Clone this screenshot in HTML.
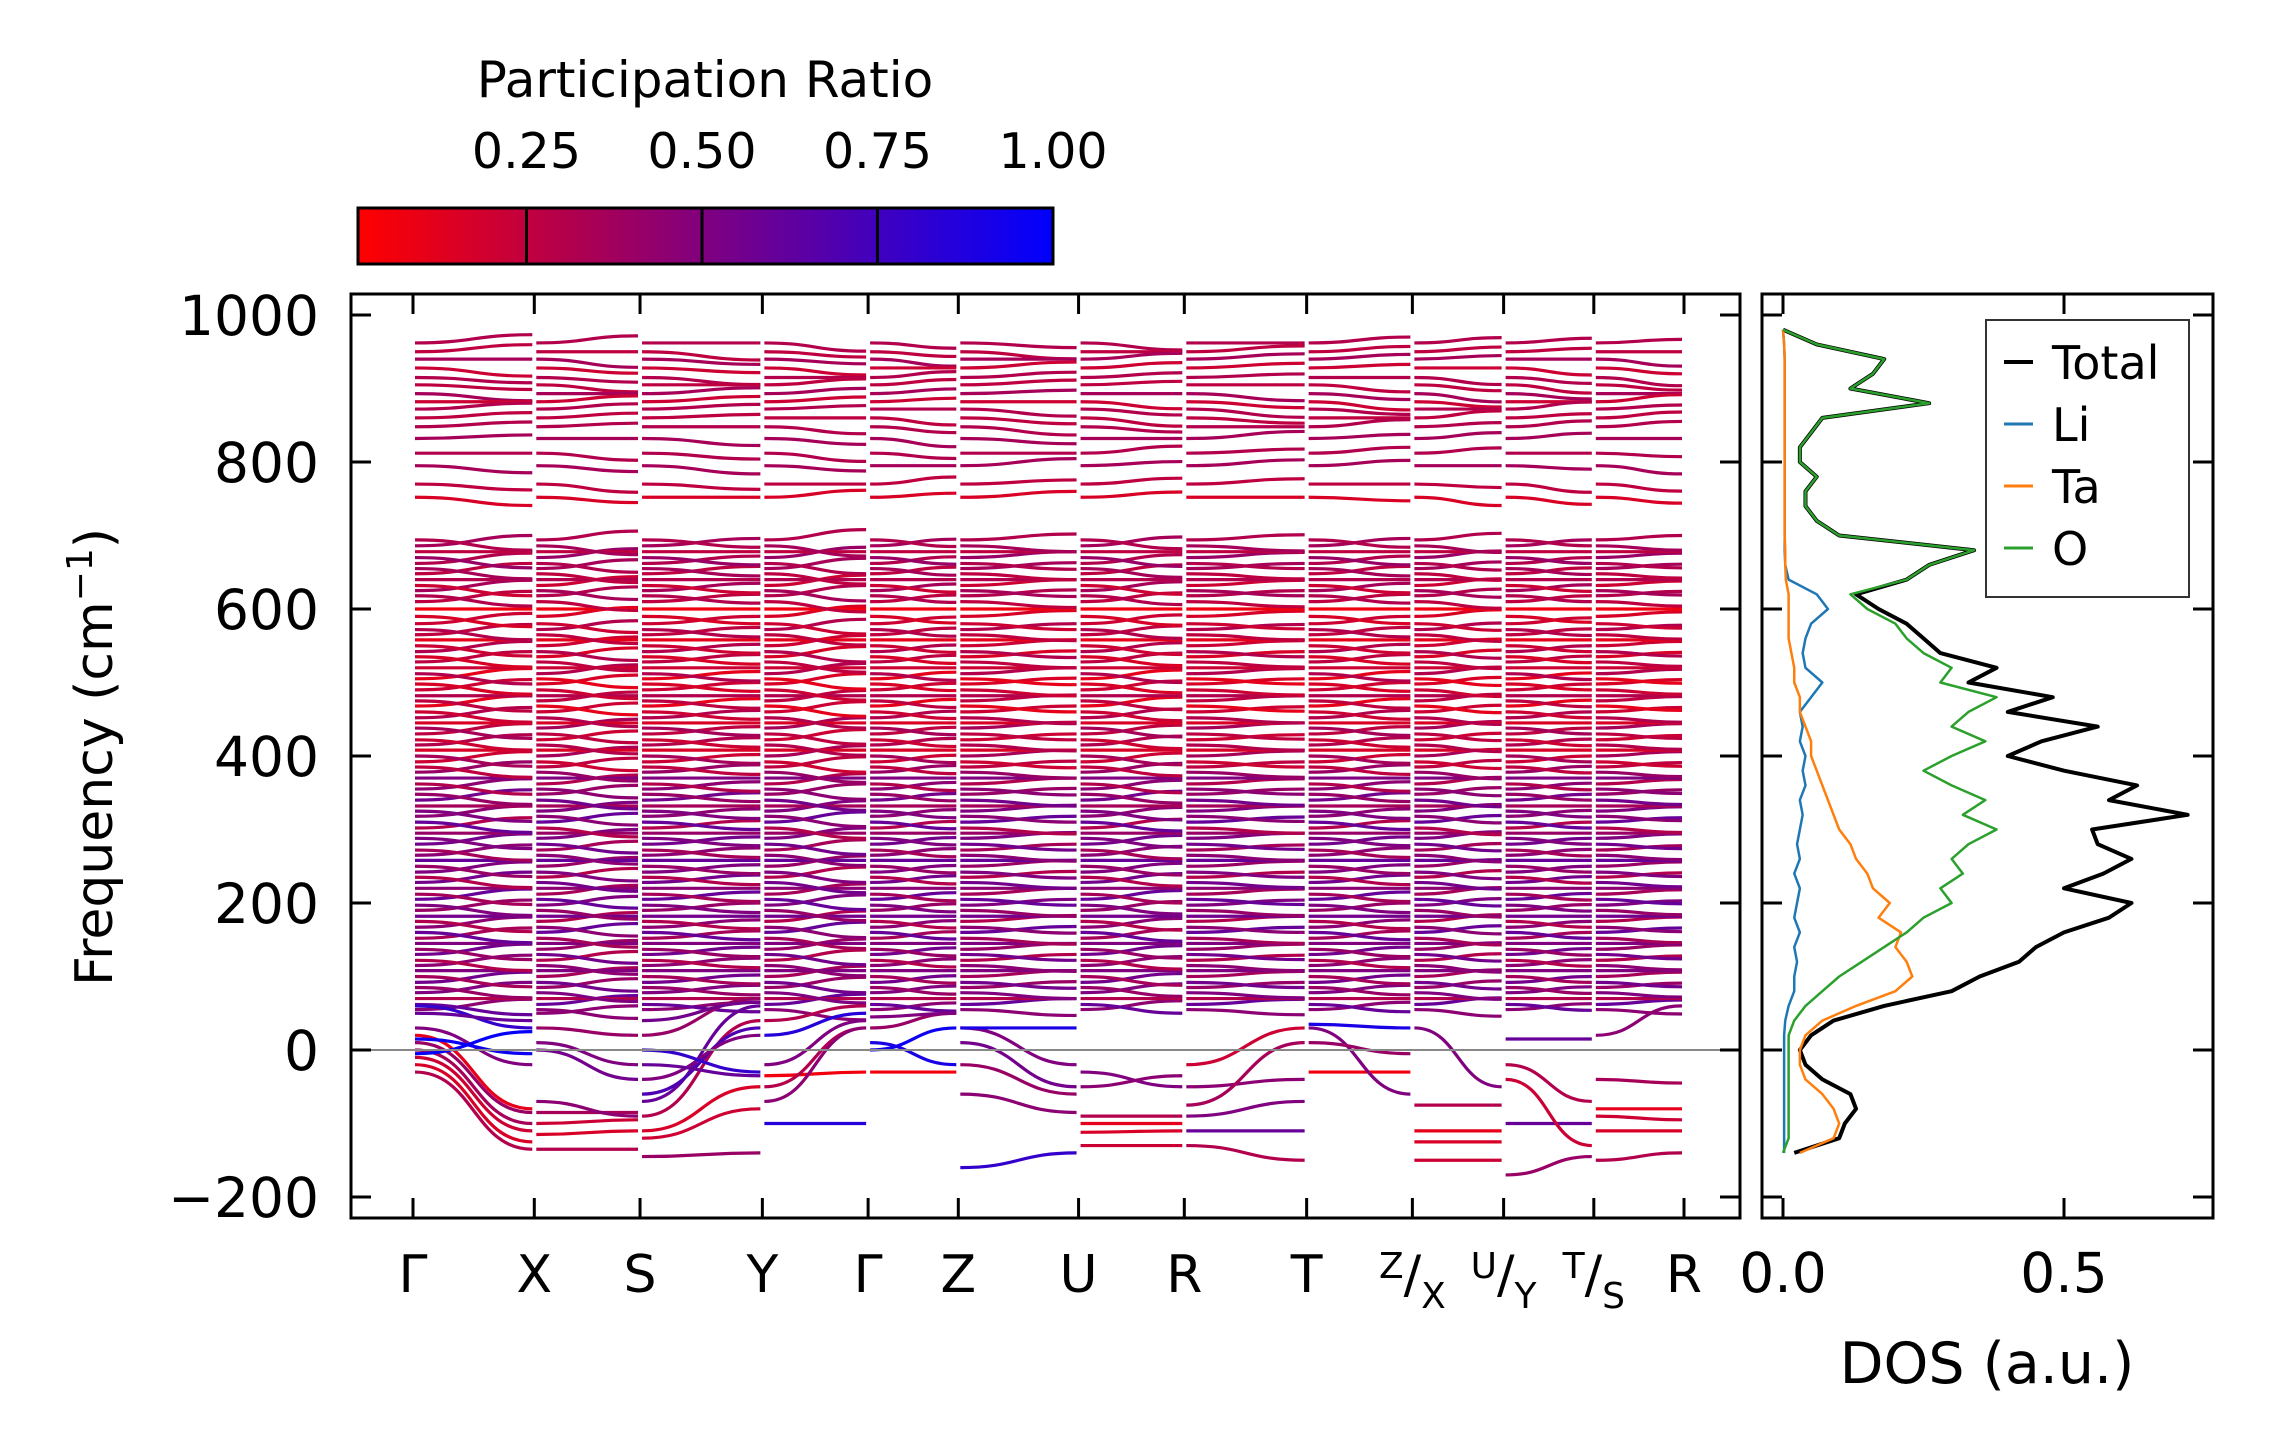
<!DOCTYPE html>
<html><head><meta charset="utf-8"><style>
html,body{margin:0;padding:0;background:#fff;}
svg{display:block;font-family:"DejaVu Sans","Liberation Sans",sans-serif;}
</style></head><body>
<svg id="chart" width="2271" height="1455" viewBox="0 0 2271 1455" xmlns="http://www.w3.org/2000/svg">
<defs>
<linearGradient id="cbg" x1="0" x2="1" y1="0" y2="0"><stop offset="0" stop-color="#ff0000"/><stop offset="1" stop-color="#0000ff"/></linearGradient>
<clipPath id="bandclip"><rect x="351" y="294" width="1389" height="924"/></clipPath>
<clipPath id="dosclip"><rect x="1762" y="294" width="451" height="924"/></clipPath>
</defs>
<g id="colorbar">
<text x="705" y="97" font-size="50" text-anchor="middle">Participation Ratio</text>
<rect x="358" y="208" width="695" height="56" fill="url(#cbg)" stroke="#000" stroke-width="3"/>
<g id="cbticks"></g>
</g>
<g id="bands"></g>
<g id="dos"></g>
<text transform="translate(112,757) rotate(-90)" font-size="52" text-anchor="middle">Frequency (cm<tspan dy="-20" font-size="36">−1</tspan><tspan dy="20">)</tspan></text>
<text x="1987" y="1383" font-size="57" text-anchor="middle">DOS (a.u.)</text>
<g id="legend">
<rect x="1986" y="320" width="203" height="277" fill="#fff" stroke="#333" stroke-width="2"/>
</g>
</svg>
<script>
const NS="http://www.w3.org/2000/svg";
// ---- data ----
const kLabels=["Γ","X","S","Y","Γ","Z","U","R","T","Z|X","U|Y","T|S","R"];
const kPos=[0,1.17,2.19,3.37,4.39,5.26,6.42,7.44,8.62,9.64,10.52,11.39,12.26];
const freqTicks=[-200,0,200,400,600,800,1000];
const cbTicks=[0.25,0.5,0.75,1.0];
const denseLevels=[55,62,70,78,85,92,100,108,115,122,130,137,145,152,160,167,175,182,190,197,205,212,220,228,235,242,250,258,265,272,280,288,295,302,310,318,325,332,340,348,355,362,370,378,385,392,400,408,415,422,430,438,445,452,460,468,475,482,490,498,505,512,520,528,535,542,550,558,565,572,580,590,600,610,618,625,632,640,648,655,662,670,678,686,694];
const densePR=[0.45,0.6,0.3,0.5,0.4,0.55,0.35,0.5,0.45,0.3,0.55,0.4,0.5,0.35,0.6,0.45,0.3,0.55,0.4,0.5,0.6,0.35,0.45,0.55,0.3,0.5,0.4,0.6,0.45,0.35,0.55,0.5,0.4,0.3,0.6,0.45,0.5,0.35,0.55,0.4,0.45,0.3,0.5,0.4,0.25,0.2,0.35,0.15,0.3,0.2,0.25,0.35,0.15,0.3,0.2,0.1,0.25,0.3,0.2,0.15,0.1,0.3,0.2,0.25,0.15,0.3,0.2,0.1,0.25,0.3,0.2,0.15,0.05,0.25,0.3,0.35,0.2,0.3,0.25,0.35,0.3,0.4,0.25,0.35,0.3];
const highLevels=[962,950,940,928,915,905,893,882,872,860,848,832,812,795,770,752];
const highPR=[0.3,0.25,0.35,0.2,0.3,0.25,0.35,0.2,0.3,0.25,0.3,0.35,0.3,0.35,0.25,0.15];
const segShift=[14,-12,10,-14,9,-8,12,-7,10,-9,8,-6];
const bandDir=[1,-1,0,1,-1];
// low-frequency / unstable branches: [segment, fStart, fEnd, PR]
const lowBands=[[0,-30,-135,0.3],[0,-20,-125,0.15],[0,-10,-110,0.2],[0,0,-100,0.35],[0,10,-85,0.4],[0,20,-80,0.1],[0,30,-20,0.5],[0,15,-5,0.95],[0,60,30,0.8],[0,50,40,0.6],[0,-5,25,0.98],
[1,-135,-135,0.3],[1,-115,-110,0.15],[1,-100,-95,0.2],[1,-85,-85,0.35],[1,0,-40,0.55],[1,10,-20,0.5],[1,-70,-90,0.45],[1,30,20,0.4],[1,50,60,0.45],
[2,-145,-140,0.4],[2,-120,-80,0.2],[2,-110,-50,0.15],[2,-90,40,0.3],[2,-70,60,0.6],[2,-60,30,0.7],[2,-40,20,0.5],[2,-20,-35,0.6],[2,0,-30,0.8],[2,20,70,0.4],[2,40,65,0.55],
[3,-100,-100,0.85],[3,-35,-30,0.05],[3,-50,30,0.3],[3,-20,40,0.5],[3,20,50,0.85],[3,-70,30,0.45],[3,40,60,0.3],
[4,-30,-30,0.05],[4,0,30,0.95],[4,10,-20,0.9],[4,30,50,0.4],[4,45,50,0.5],
[5,-160,-140,0.8],[5,30,-20,0.5],[5,10,-50,0.55],[5,-60,-85,0.45],[5,-20,-60,0.4],[5,30,30,0.9],
[6,-90,-90,0.3],[6,-100,-100,0.1],[6,-112,-110,0.15],[6,-130,-130,0.2],[6,-30,-50,0.5],[6,-50,-35,0.45],
[7,-130,-150,0.3],[7,-90,-70,0.5],[7,-50,-40,0.45],[7,-110,-110,0.6],[7,-75,10,0.35],[7,-20,30,0.2],
[8,-30,-30,0.05],[8,30,-60,0.5],[8,35,30,0.9],[8,10,-5,0.4],
[9,-110,-110,0.1],[9,-125,-125,0.15],[9,-150,-150,0.2],[9,30,-50,0.5],[9,-75,-75,0.3],
[10,15,15,0.6],[10,-100,-100,0.6],[10,-40,-130,0.2],[10,-170,-145,0.4],[10,-20,-70,0.3],
[11,-80,-80,0.1],[11,-90,-95,0.2],[11,-110,-110,0.15],[11,-150,-140,0.3],[11,-40,-45,0.35],[11,20,60,0.45]];
// DOS data
const dosFreq=[-140,-120,-100,-80,-60,-40,-20,0,20,40,60,80,100,120,140,160,180,200,220,240,260,280,300,320,340,360,380,400,420,440,460,480,500,520,540,560,580,600,620,640,660,680,700,720,740,760,780,800,820,840,860,880,900,920,940,960,980];
const dosTotal=[0.02,0.10,0.11,0.13,0.12,0.07,0.04,0.03,0.05,0.09,0.18,0.30,0.35,0.42,0.45,0.50,0.58,0.62,0.50,0.57,0.62,0.56,0.55,0.72,0.58,0.63,0.50,0.40,0.46,0.56,0.40,0.48,0.33,0.38,0.28,0.25,0.22,0.17,0.13,0.22,0.26,0.34,0.10,0.06,0.04,0.04,0.06,0.03,0.03,0.05,0.07,0.26,0.12,0.16,0.18,0.06,0.0];
const dosO=[0,0.01,0.01,0.01,0.01,0.01,0.01,0.01,0.01,0.02,0.04,0.07,0.10,0.14,0.18,0.22,0.25,0.30,0.28,0.32,0.30,0.33,0.38,0.32,0.36,0.30,0.25,0.30,0.36,0.30,0.33,0.38,0.28,0.30,0.25,0.22,0.20,0.15,0.12,0.22,0.26,0.34,0.10,0.06,0.04,0.04,0.06,0.03,0.03,0.05,0.07,0.26,0.12,0.16,0.18,0.06,0.0];
const dosTa=[0.03,0.09,0.10,0.09,0.07,0.04,0.03,0.03,0.04,0.07,0.13,0.20,0.23,0.22,0.20,0.21,0.17,0.19,0.16,0.15,0.13,0.12,0.10,0.09,0.08,0.07,0.06,0.05,0.05,0.04,0.03,0.03,0.02,0.02,0.015,0.01,0.01,0.01,0.01,0.005,0.004,0.004,0.003,0.003,0.003,0.003,0.003,0.003,0.003,0.003,0.003,0.003,0.003,0.003,0.003,0.002,0.0];
const dosLi=[0.002,0.002,0.002,0.002,0.002,0.002,0.002,0.002,0.002,0.004,0.01,0.02,0.02,0.025,0.02,0.03,0.02,0.025,0.03,0.02,0.03,0.025,0.03,0.035,0.03,0.04,0.035,0.04,0.03,0.035,0.03,0.05,0.07,0.04,0.035,0.04,0.05,0.08,0.06,0.01,0.004,0.003,0.003,0.003,0.003,0.003,0.003,0.003,0.003,0.003,0.003,0.003,0.003,0.003,0.003,0.002,0.0];
const dosTicks=[0.0,0.5];
const legendNames=["Total","Li","Ta","O"];
const legendColors=["#000000","#1f77b4","#ff7f0e","#2ca02c"];
// ---- scales ----
const yF=f=>1050-0.735*f;
const xK=k=>413+k*(1684-413)/12.26;
const xD=d=>1783+d*(2064-1783)/0.5;
const cbX=v=>358+(v-0.01)/(0.99)*695;
const prColor=p=>{p=Math.max(0,Math.min(1,p));return `rgb(${Math.round(255*(1-p))},0,${Math.round(255*p)})`;};
function mk(tag,attrs,parent){const e=document.createElementNS(NS,tag);for(const k in attrs)e.setAttribute(k,attrs[k]);parent.appendChild(e);return e;}
// colorbar ticks
const cbt=document.getElementById('cbticks');
cbTicks.forEach(v=>{
  const l=mk('line',{x1:cbX(v),x2:cbX(v),y1:208,y2:264,stroke:'#000','stroke-width':3},cbt);
  
  
  const t=mk('text',{x:cbX(v),y:168,'font-size':49,'text-anchor':'middle'},cbt);
  t.textContent=v.toFixed(2);
  
  
});
// bands
const B=document.getElementById('bands');
const bg=mk('g',{'clip-path':'url(#bandclip)'},B);
function curve(s,f0,f1,pr,w){
  const x0=xK(kPos[s])+2,x1=xK(kPos[s+1])-2,xm=(x0+x1)/2;
  const p=mk('path',{d:`M${x0},${yF(f0)} C${xm},${yF(f0)} ${xm},${yF(f1)} ${x1},${yF(f1)}`,fill:'none',stroke:prColor(pr),'stroke-width':w||3.2},bg);
  
  
}
for(let s=0;s<kPos.length-1;s++){
  denseLevels.forEach((f,i)=>curve(s,f,f+segShift[s]*bandDir[i%5],densePR[i]));
  highLevels.forEach((f,i)=>curve(s,f,f+segShift[(s+i)%12]*bandDir[(i+s)%5]*0.8,highPR[i]));
}
lowBands.forEach(b=>curve(b[0],b[1],b[2],b[3]));
const zl=mk('line',{x1:351,x2:1740,y1:yF(0),y2:yF(0),stroke:'#888','stroke-width':2},B);


const fr=mk('rect',{x:351,y:294,width:1389,height:924,fill:'none',stroke:'#000','stroke-width':3},B);


freqTicks.forEach(f=>{
  [[351,371],[1740,1720]].forEach(([a,b])=>{const l=mk('line',{x1:a,x2:b,y1:yF(f),y2:yF(f),stroke:'#000','stroke-width':3},B);
  
  });
  const t=mk('text',{x:319,y:yF(f)+20,'font-size':55,'text-anchor':'end'},B);
  t.textContent=f<0?'−'+(-f):String(f);
  
  
});
kPos.forEach((k,i)=>{
  [[1218,1198],[294,314]].forEach(([a,b])=>{const l=mk('line',{x1:xK(k),x2:xK(k),y1:a,y2:b,stroke:'#000','stroke-width':3},B);
  
  });
  const lab=kLabels[i];
  const t=mk('text',{x:xK(k),y:1292,'font-size':52,'text-anchor':'middle'},B);
  if(lab.includes('|')){const [a,b]=lab.split('|');
    const t1=mk('tspan',{'font-size':36,dy:-14},t);t1.textContent=a;
    const t2=mk('tspan',{dy:14},t);t2.textContent='/';
    const t3=mk('tspan',{'font-size':36,dy:16},t);t3.textContent=b;}
  else t.textContent=lab;
  
  
});
// DOS
const D=document.getElementById('dos');
const dg=mk('g',{'clip-path':'url(#dosclip)'},D);
function dline(vals,color,w,name){
  const pts=dosFreq.map((f,i)=>`${xD(vals[i])},${yF(f)}`).join(' ');
  const p=mk('polyline',{points:pts,fill:'none',stroke:color,'stroke-width':w,'stroke-linejoin':'round'},dg);
  
  
}
dline(dosTotal,'#000',4,'dos-total-line');
dline(dosLi,'#1f77b4',2.5,'dos-li-line');
dline(dosTa,'#ff7f0e',2.5,'dos-ta-line');
dline(dosO,'#2ca02c',2.5,'dos-o-line');
const df=mk('rect',{x:1762,y:294,width:451,height:924,fill:'none',stroke:'#000','stroke-width':3},D);


freqTicks.forEach(f=>{
  [[1762,1782],[2213,2193]].forEach(([a,b])=>{const l=mk('line',{x1:a,x2:b,y1:yF(f),y2:yF(f),stroke:'#000','stroke-width':3},D);
  
  });
});
dosTicks.forEach(d=>{
  [[1218,1198],[294,314]].forEach(([a,b])=>{const l=mk('line',{x1:xD(d),x2:xD(d),y1:a,y2:b,stroke:'#000','stroke-width':3},D);
  
  });
  const t=mk('text',{x:xD(d),y:1292,'font-size':55,'text-anchor':'middle'},D);
  t.textContent=d.toFixed(1);
  
  
});
const L=document.getElementById('legend');
legendNames.forEach((n,i)=>{
  const y=362+i*62;
  const l=mk('line',{x1:2004,x2:2033,y1:y,y2:y,stroke:legendColors[i],'stroke-width':i==0?4:3},L);
  
  
  const t=mk('text',{x:2052,y:y+17,'font-size':46},L);
  t.textContent=n;
  
  
});
</script>
</body></html>
